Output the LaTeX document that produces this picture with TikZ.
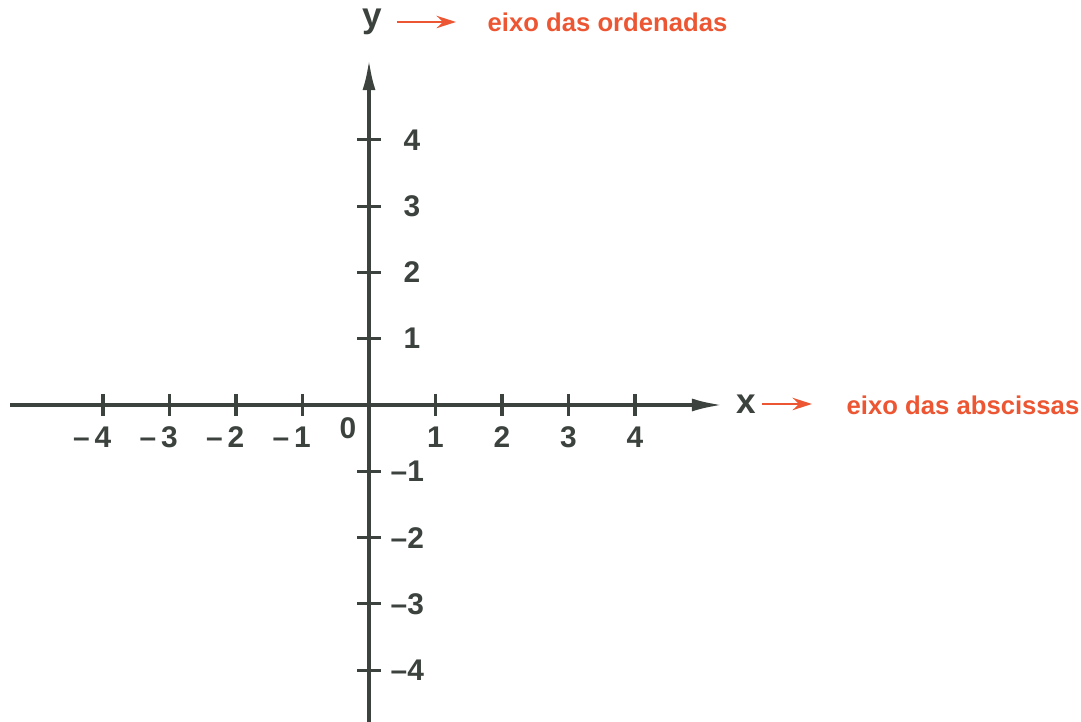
\documentclass[tikz,border=0pt]{standalone}
\usepackage{fontspec}
\setmainfont{Liberation Sans}
\usetikzlibrary{arrows.meta}
\definecolor{axisgray}{RGB}{60,66,62}
\definecolor{labelred}{RGB}{236,86,50}
\tikzset{
  axis/.style={line width=0.9pt, draw=axisgray},
  axisarrow/.style={axis, -{Latex[length=0.3cm,width=0.13cm]}},
  ticklabel/.style={font=\bfseries\fontsize{8.5}{10}\selectfont, text=axisgray, inner sep=0pt},
  redlabel/.style={font=\bfseries\fontsize{7.3}{9}\selectfont, text=labelred, inner sep=0pt, anchor=west},
  redarrow/.style={draw=labelred, line width=0.7pt, -{Stealth[length=5.5pt,width=3.5pt]}}
}
\begin{document}
\begin{tikzpicture}[x=0.01cm,y=-0.01cm]
  \useasboundingbox (0,0) rectangle (1081,722);
  % axes
  \draw[axisarrow] (10,405) -- (722,405);
  \draw[axisarrow] (369,722) -- (369,60);
  % ticks and numbers
  \foreach \i in {1,...,4} {
    \draw[axis] (369+66.5*\i,394) -- (369+66.5*\i,416);
    \draw[axis] (369-66.5*\i,394) -- (369-66.5*\i,416);
    \draw[axis] (357,405-66.3*\i) -- (381,405-66.3*\i);
    \draw[axis] (357,405+66.3*\i) -- (381,405+66.3*\i);
    \node[ticklabel] (xp\i) at (369+66.5*\i,437) {\i};
    \node[ticklabel] (xn\i) at (369-66.5*\i,437) {\llap{–\,}\i};
    \node[ticklabel, anchor=west] (yp\i) at (403,405-66.3*\i) {\i};
    \node[ticklabel, anchor=west] (yn\i) at (390,405+66.3*\i) {–\i};
  }
  \node[ticklabel] (orig) at (348,428) {0};
  % axis names
  \node[ticklabel, font=\bfseries\fontsize{10}{12}\selectfont] (ylab) at (372,22) {y};
  \node[ticklabel, font=\bfseries\fontsize{10}{12}\selectfont] (xlab) at (746,404) {x};
  \node[redlabel] (ordlab) at (487,22) {eixo das ordenadas};
  \node[redlabel] (abslab) at (846,405) {eixo das abscissas};
  \draw[redarrow, shorten <=0.15cm, shorten >=0.31cm] (ylab.east) -- (ylab.east -| ordlab.west);
  \draw[redarrow, shorten <=0.06cm, shorten >=0.34cm] (xlab.east) -- (xlab.east -| abslab.west);
\end{tikzpicture}
\end{document}
